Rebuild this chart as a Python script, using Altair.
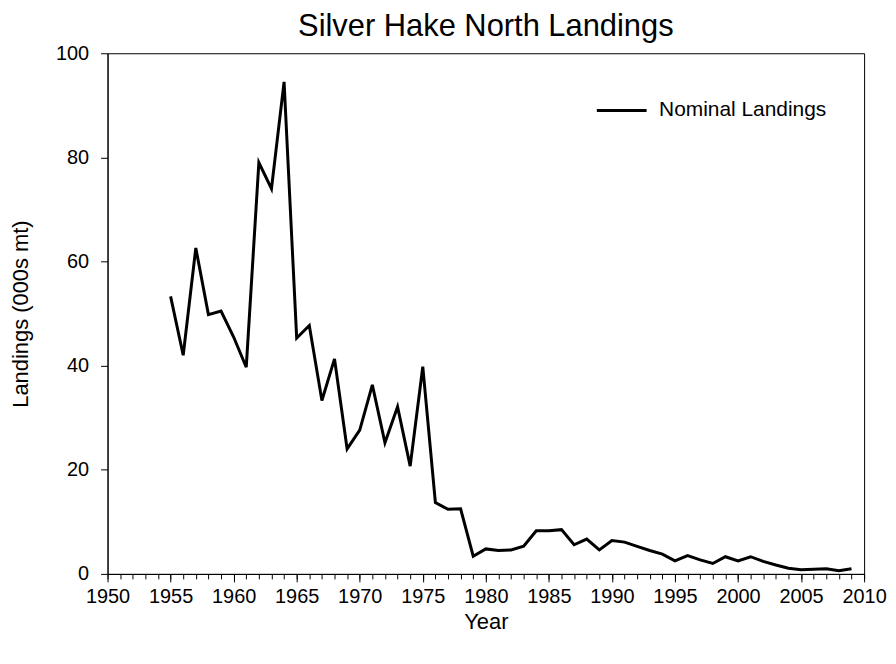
import altair as alt
import pandas as pd

years = list(range(1955, 2010))
landings = [53.3, 42.0, 62.6, 49.8, 50.5, 45.5, 39.7, 79.0, 74.0, 94.5,
            45.3, 47.7, 33.3, 41.3, 24.0, 27.6, 36.3, 25.2, 32.1, 20.7,
            39.8, 13.7, 12.4, 12.5, 3.4, 4.8, 4.5, 4.6, 5.3, 8.3,
            8.3, 8.5, 5.6, 6.7, 4.6, 6.4, 6.1, 5.3, 4.5, 3.8,
            2.5, 3.5, 2.7, 2.0, 3.3, 2.5, 3.3, 2.4, 1.7, 1.1,
            0.8, 0.9, 1.0, 0.6, 1.0]
series_name = "Nominal Landings"
major_x = list(range(1950, 2011, 5))
minor_x = list(range(1950, 2011, 1))
y_ticks = [0, 20, 40, 60, 80, 100]

df = pd.DataFrame({"Year": years, "Landings": landings, "Series": series_name})

FONT = "Liberation Sans"

xscale = alt.Scale(domain=[1950, 2010], nice=False, zero=False)
yscale = alt.Scale(domain=[0, 100], nice=False)

main = alt.Chart(df).mark_line(strokeWidth=3, strokeJoin="miter").encode(
    x=alt.X("Year:Q", scale=xscale,
            axis=alt.Axis(values=major_x, format="d", tickSize=8, labelPadding=5,
                          labelOverlap=False, labelFlush=False,
                          title="Year", titlePadding=5, orient="bottom")),
    y=alt.Y("Landings:Q", scale=yscale,
            axis=alt.Axis(values=y_ticks, tickSize=7, labelPadding=12,
                          title="Landings (000s mt)", titlePadding=23)),
    color=alt.Color("Series:N",
                    scale=alt.Scale(domain=[series_name], range=["black"]),
                    legend=alt.Legend(title=None, orient="none", legendX=490, legendY=31,
                                      symbolType="stroke", symbolSize=2500,
                                      symbolStrokeWidth=3, symbolStrokeColor="black",
                                      labelFontSize=21, labelFont=FONT, labelColor="black",
                                      labelOffset=11, labelLimit=400, padding=0)),
)

minor = alt.Chart(df).mark_line(opacity=0).encode(
    x=alt.X("Year:Q", scale=xscale,
            axis=alt.Axis(values=minor_x, tickSize=5, labels=False, domain=False,
                          title=None, orient="bottom")),
    y=alt.Y("Landings:Q", scale=yscale),
)

chart = alt.layer(main, minor).resolve_axis(x="independent").properties(
    width=760, height=523,
    title=alt.Title("Silver Hake North Landings", fontSize=31, font=FONT,
                    fontWeight="normal", color="black", offset=0, anchor="middle"),
    autosize=alt.AutoSizeParams(type="none"),
    padding={"left": 100, "top": 44, "right": 24, "bottom": 81},
).configure_view(stroke="black", strokeWidth=1).configure_axis(
    grid=False, domainColor="black", domainWidth=1, tickColor="black", tickWidth=1,
    labelFont=FONT, labelFontSize=20, labelColor="black",
    titleFont=FONT, titleFontSize=22, titleColor="black", titleFontWeight="normal",
)

chart.save("out.html", embed_options={"renderer": "svg", "actions": False})
